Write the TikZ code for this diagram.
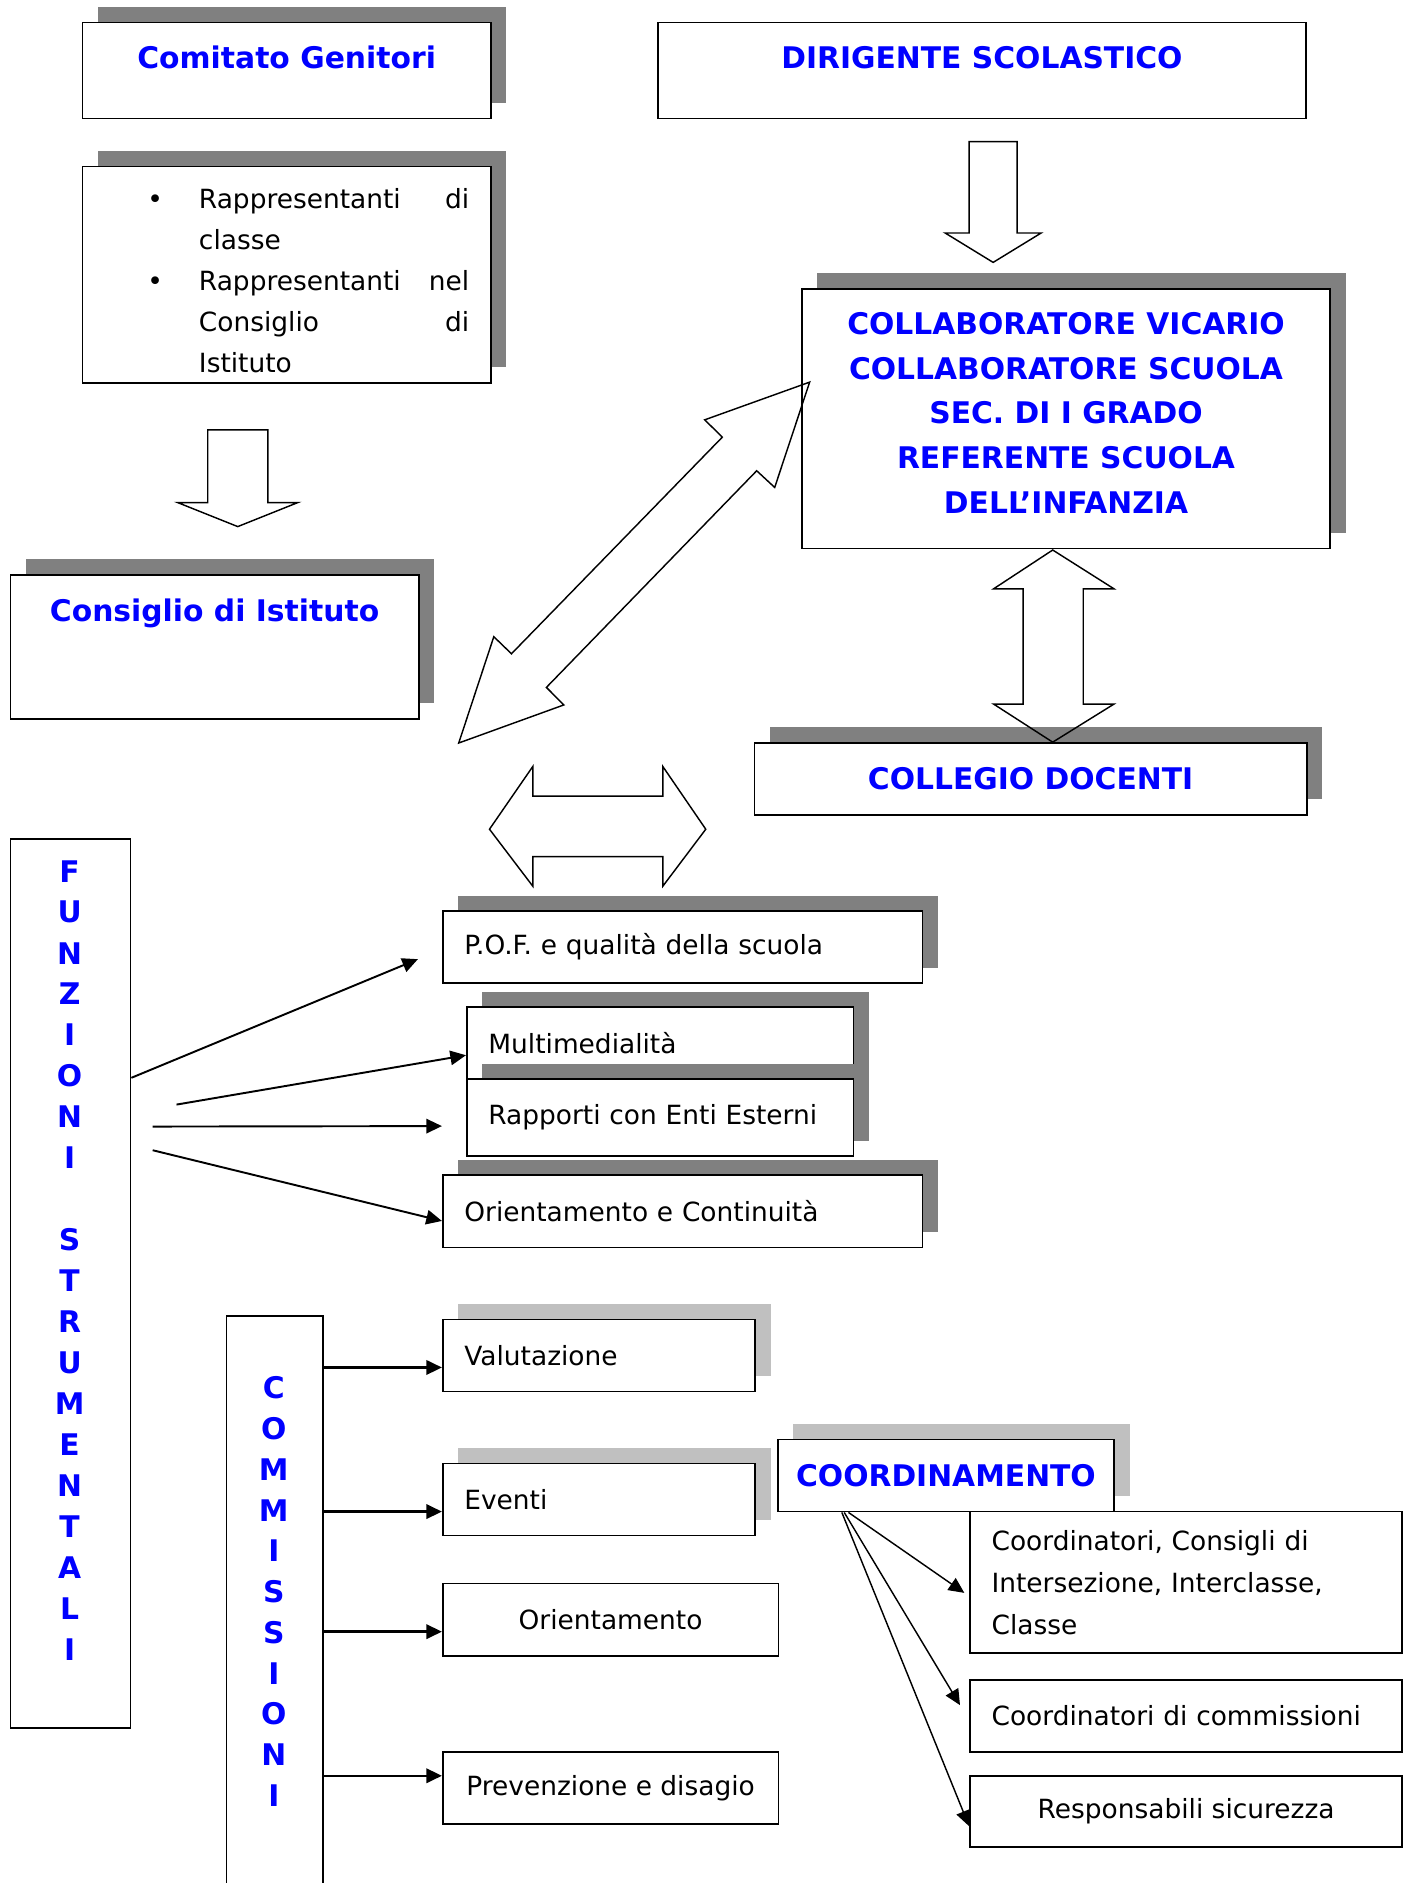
\documentclass[tikz,border=0pt]{standalone}
\usepackage{fontspec}
\setmainfont{DejaVu Sans}
\usetikzlibrary{arrows.meta,shadows,calc}

\definecolor{hdblue}{RGB}{0,0,255}
\definecolor{shdark}{RGB}{128,128,128}
\definecolor{shlight}{RGB}{192,192,192}

\tikzset{
    box/.style={draw, fill=white, line width=0.7pt, anchor=north west, inner sep=0pt,
        font=\fontsize{11}{17}\selectfont},
    darkshadow/.style={drop shadow={shadow xshift=6.5pt, shadow yshift=6.5pt, fill=shdark, opacity=1}},
    lightshadow/.style={drop shadow={shadow xshift=6.5pt, shadow yshift=6.5pt, fill=shlight, opacity=1}},
    head/.style={text=hdblue, font=\fontsize{12.4}{18.6}\selectfont\bfseries},
    lefttext/.style={align=left, inner xsep=9pt, text width=#1},
    letter/.style={text=hdblue, font=\fontsize{12.4}{17}\selectfont\bfseries, inner sep=0pt},
    blockarrow/.style={draw, line width=0.6pt, line join=miter},
    link/.style={-{Triangle[length=6.5pt,width=6pt]}, line width=0.8pt},
}

\begin{document}
\begin{tikzpicture}[x=0.5pt, y=-0.5pt]
\useasboundingbox (0,0) rectangle (1172,1568);
\clip (0,0) rectangle (1172,1568);

\node[box, darkshadow, head, minimum width=170pt, text height=19pt, text depth=21pt] (gen) at (68,18) {Comitato Genitori};
\node[box, darkshadow, minimum width=170pt, minimum height=90pt, align=left, text width=170pt] (rapp) at (68,138) {%
    \rule{0pt}{13.4pt}\hspace*{48.5pt}\llap{\textbullet\hspace{15pt}}\hbox to 112.5pt{Rappresentanti\hfill di}\\
    \hspace*{48.5pt}classe\\
    \hspace*{48.5pt}\llap{\textbullet\hspace{15pt}}\hbox to 112.5pt{Rappresentanti\hfill nel}\\
    \hspace*{48.5pt}\hbox to 112.5pt{Consiglio\hfill di}\\
    \hspace*{48.5pt}Istituto};
\node[box, darkshadow, head, minimum width=170pt, text height=19.5pt, text depth=40.5pt] (cdi) at (8,478) {Consiglio di Istituto};

\node[box, head, minimum width=270pt, text height=19pt, text depth=21pt] (ds) at (547,18) {DIRIGENTE SCOLASTICO};
\node[box, darkshadow, head, minimum width=220pt, minimum height=108pt, align=center] (collab) at (667,240)
    {COLLABORATORE VICARIO\\ COLLABORATORE SCUOLA\\ SEC. DI I GRADO\\ REFERENTE SCUOLA\\ DELL’INFANZIA\rule[-5pt]{0pt}{0pt}};
\node[box, darkshadow, head, minimum width=230pt, minimum height=30pt] (collegio) at (627.5,618) {COLLEGIO DOCENTI};

\node[box, minimum width=50pt, minimum height=370pt] (funz) at (8,698) {};
\foreach \ch [count=\i from 0] in {F,U,N,Z,I,O,N,I}
    \node[letter] (fa\i) at (58,{725.5+34.1*\i}) {\ch};
\foreach \ch [count=\i from 9] in {S,T,R,U,M,E,N,T,A,L,I}
    \node[letter] (fb\i) at (58,{725.5+34.1*\i}) {\ch};

\node[box, darkshadow, minimum width=199.75pt, minimum height=30pt, lefttext=181.75pt] (pof) at (368,758) {P.O.F. e qualità della scuola};
\node[box, darkshadow, minimum width=161pt, minimum height=30pt, lefttext=143pt] (multi) at (388,838) {Multimedialità};
\node[box, darkshadow, minimum width=161pt, minimum height=32pt, lefttext=143pt] (enti) at (388,898) {Rapporti con Enti Esterni};
\node[box, darkshadow, minimum width=199.75pt, minimum height=30pt, lefttext=181.75pt] (orcont) at (368,978) {Orientamento e Continuità};

\node[box, minimum width=40pt, minimum height=260pt] (comm) at (188,1095) {};
\foreach \ch [count=\i from 0] in {C,O,M,M,I,S,S,I,O,N,I}
    \node[letter] (cl\i) at (228,{1155.7+33.95*\i}) {\ch};

\node[box, lightshadow, minimum width=130pt, minimum height=30pt, lefttext=112pt] (val) at (368,1098) {Valutazione};
\node[box, lightshadow, minimum width=130pt, minimum height=30pt, lefttext=112pt] (eventi) at (368,1218) {Eventi};
\node[box, minimum width=139.75pt, minimum height=30pt] (orient) at (368,1318) {Orientamento};
\node[box, minimum width=139.75pt, minimum height=30pt] (prev) at (368,1458) {Prevenzione e disagio};

\node[box, lightshadow, head, minimum width=140pt, minimum height=30pt] (coord) at (647,1198) {COORDINAMENTO};
\node[box, minimum width=180pt, minimum height=59pt, lefttext=162pt, font=\fontsize{11}{17.5}\selectfont] (cons) at (807,1258)
    {Coordinatori, Consigli di\\ Intersezione, Interclasse,\\ Classe};
\node[box, minimum width=180pt, minimum height=30pt, lefttext=162pt] (ccomm) at (807,1398) {Coordinatori di commissioni};
\node[box, minimum width=180pt, minimum height=29.7pt] (resp) at (807,1478) {Responsabili sicurezza};

\draw[blockarrow] (173,358) -- (223,358) -- (223,418.5) -- (248,418.5) -- (198,438.5) -- (148,418.5) -- (173,418.5) -- cycle;
\draw[blockarrow] (807,118) -- (847,118) -- (847,194) -- (867,194) -- (827,218.5) -- (787,194) -- (807,194) -- cycle;
\draw[blockarrow] (876.6,458) -- (927.6,490.3) -- (902,490.3) -- (902,586.3) -- (927.6,586.3) -- (876.6,618)
    -- (827.4,586.3) -- (852,586.3) -- (852,490.3) -- (827.4,490.3) -- cycle;
\draw[blockarrow] (407.6,690.5) -- (443.7,638.2) -- (443.7,663) -- (551.9,663) -- (551.9,638.2) -- (587.7,690.5)
    -- (551.9,738) -- (551.9,713.3) -- (443.7,713.3) -- (443.7,738) -- cycle;
\draw[blockarrow] (674.2,318.2) -- (586.8,349.6) -- (601.5,364) -- (425.9,544.4) -- (411.2,530.2) -- (382,618.7)
    -- (469.5,587) -- (455,572.4) -- (630.1,392) -- (645.1,405.9) -- cycle;

\coordinate (f2) at (147,919.8);
\coordinate (f3) at (127.1,938.1);
\coordinate (f4) at (127.1,957.8);
\draw[link] ($(funz.north east)+(0,199.5)$) -- ($(pof.west)+(-20,10)$);
\draw[link] (f2) -- ($(multi.west)+(0,10)$);
\draw[link] (f3) -- ($(enti.west)+(-20,7)$);
\draw[link] (f4) -- ($(orcont.west)+(0,8)$);

\draw[link, line width=1pt] ($(comm.east |- val.west)+(0,10)$) -- ($(val.west)+(0,10)$);
\draw[link, line width=1pt] ($(comm.east |- eventi.west)+(0,10)$) -- ($(eventi.west)+(0,10)$);
\draw[link, line width=1pt] ($(comm.east |- orient.west)+(0,10)$) -- ($(orient.west)+(0,10)$);
\draw[link, line width=1pt] ($(comm.east |- prev.west)+(0,-10)$) -- ($(prev.west)+(0,-10)$);

\draw[link, line width=0.6pt] ($(coord.south west)+(59.5,0)$) -- ($(cons.west)+(-4,8.7)$);
\draw[link, line width=0.6pt] ($(coord.south west)+(56,0)$) -- ($(ccomm.west)+(-7.6,-8.8)$);
\draw[link, line width=0.6pt] ($(coord.south west)+(54,0)$) -- ($(resp.west)+(0,12.3)$);
\end{tikzpicture}
\end{document}
